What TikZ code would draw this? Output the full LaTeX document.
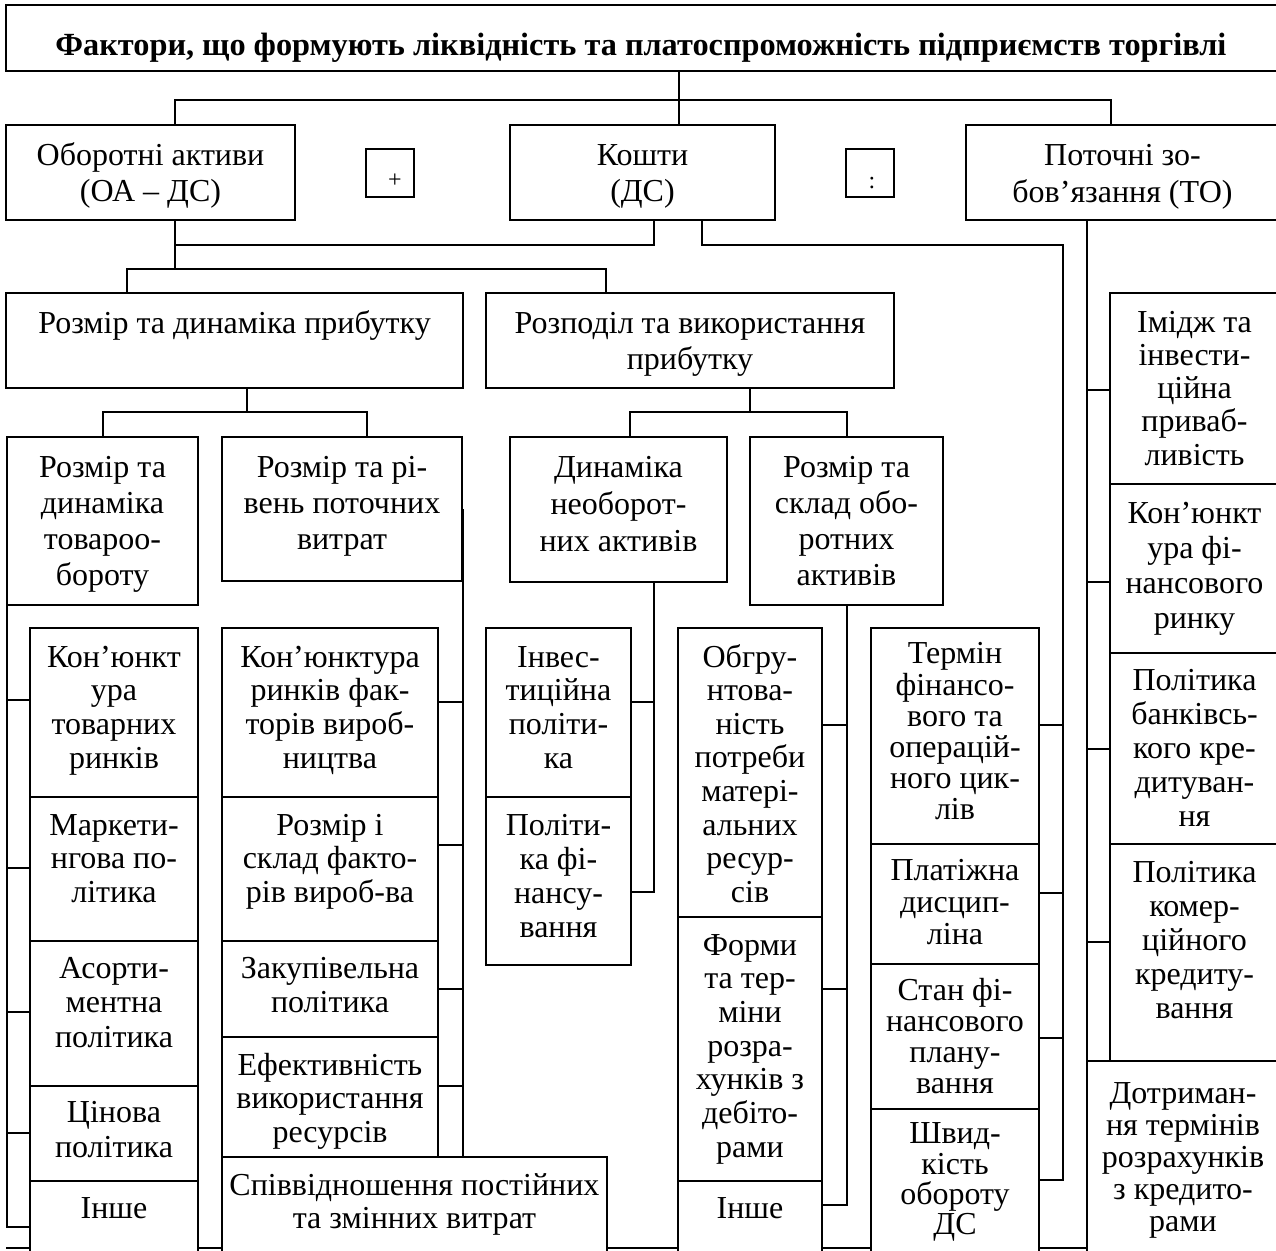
\documentclass[tikz,border=0pt]{standalone}
\usepackage{fontspec}
\setmainfont{Liberation Serif}
\usetikzlibrary{calc}
\tikzset{
  box/.style={draw, rectangle, line width=1.2pt, fill=white, inner sep=0pt, outer sep=0pt},
  txt/.style={inner sep=0pt, outer sep=0pt, align=center, text=black},
  ln/.style={line width=1.2pt, line cap=rect}
}
\newcommand\bx[8]{%
  \node[box, anchor=north west, minimum width={#4-#2}, minimum height={#5-#3}] (#1) at (#2,#3) {};
  \node[txt, font=\fontsize{32}{#7}\selectfont, anchor=north] (#1t) at ({(#2+#4)/2},{#6-0.7*#7}) {\strut #8};
}
\newcommand\tick[3]{%
  \coordinate (tk) at (#1,#2);
  \draw[ln] (tk) -- (tk -| #3);
}
\begin{document}
\begin{tikzpicture}[x=1pt,y=-1pt]
\useasboundingbox[fill=white] (0,0) rectangle (1276,1250);
% bottom fragment line (behind boxes)
\coordinate (bl1) at (7,1248);
\coordinate (bl2) at (1087,1248);
\draw[ln] (bl1) -- (bl2);
% title
\node[box, line width=2pt, anchor=north west, minimum width=1274, minimum height=66] (title) at (6,5) {};
\node[txt, font=\fontsize{32.3}{38}\selectfont\bfseries, anchor=base] (titlet) at (641,55) {Фактори, що формують ліквідність та платоспроможність підприємств торгівлі};
% row 2
\bx{oa}{6}{125}{295}{220}{165}{36}{Оборотні активи\\(ОА – ДС)}
\bx{kosh}{510}{125}{775}{220}{165}{36}{Кошти\\(ДС)}
\bx{to}{966}{125}{1279}{220}{165}{37}{Поточні зо-\\бов’язання (ТО)}
\node[box, anchor=north west, minimum width=48, minimum height=48] (plus) at (366,149) {};
\node[txt, font=\fontsize{24}{28}\selectfont, anchor=base] (plust) at (395,187) {+};
\node[box, anchor=north west, minimum width=48, minimum height=48] (colon) at (846,149) {};
\node[txt, font=\fontsize{24}{28}\selectfont, anchor=base] (colont) at (872,188) {:};
% row 3
\bx{rdp}{6}{293}{463}{388}{333}{36}{Розмір та динаміка прибутку}
\bx{rvp}{486}{293}{894}{388}{333}{36}{Розподіл та використання\\прибутку}
% row 4
\bx{rdt}{7}{437}{198}{605}{477}{36}{Розмір та\\динаміка\\товароо-\\бороту}
\bx{rrv}{222}{437}{462}{581}{477}{36}{Розмір та рі-\\вень поточних\\витрат}
\bx{dna}{510}{437}{727}{582}{477}{37}{Динаміка\\необорот-\\них активів}
\bx{rso}{750}{437}{943}{605}{477}{36}{Розмір та\\склад обо-\\ротних\\активів}
% right column
\bx{imid}{1110}{293}{1279}{484}{332}{33.3}{Імідж та\\інвести-\\ційна\\приваб-\\ливість}
\bx{kon2}{1110}{484}{1279}{653}{523}{35}{Кон’юнкт\\ура фі-\\нансового\\ринку}
\bx{polb}{1110}{653}{1279}{844}{690}{34}{Політика\\банківсь-\\кого кре-\\дитуван-\\ня}
\bx{polk}{1110}{844}{1279}{1061}{882}{34}{Політика\\комер-\\ційного\\кредиту-\\вання}
\bx{dotr}{1087}{1061}{1279}{1262}{1103}{32}{Дотриман-\\ня термінів\\розрахунків\\з кредито-\\рами}
% termin column
\bx{termin}{871}{628}{1039}{844}{663}{31}{Термін\\фінансо-\\вого та\\операцій-\\ного цик-\\лів}
\bx{plat}{871}{844}{1039}{964}{880}{32}{Платіжна\\дисцип-\\ліна}
\bx{stan}{871}{964}{1039}{1109}{1000}{31}{Стан фі-\\нансового\\плану-\\вання}
\bx{shv}{871}{1109}{1039}{1262}{1143}{30}{Швид-\\кість\\обороту\\ДС}
% obg column
\bx{obg}{678}{628}{822}{917}{667}{33.6}{Обгру-\\нтова-\\ність\\потреби\\матері-\\альних\\ресур-\\сів}
\bx{form}{678}{917}{822}{1181}{955}{33.7}{Форми\\та тер-\\міни\\розра-\\хунків з\\дебіто-\\рами}
\bx{inshe2}{678}{1181}{822}{1262}{1218}{33}{Інше}
% inv column
\bx{inv}{486}{628}{631}{797}{667}{33.7}{Інвес-\\тиційна\\політи-\\ка}
\bx{polf}{486}{797}{631}{965}{835}{34}{Політи-\\ка фі-\\нансу-\\вання}
% left column
\bx{konl}{30}{628}{198}{797}{667}{33.7}{Кон’юнкт\\ура\\товарних\\ринків}
\bx{mark}{30}{797}{198}{941}{835}{33.5}{Маркети-\\нгова по-\\літика}
\bx{asort}{30}{941}{198}{1086}{978}{34.5}{Асорти-\\ментна\\політика}
\bx{cin}{30}{1086}{198}{1181}{1122}{35}{Цінова\\політика}
\bx{inshe1}{30}{1181}{198}{1262}{1218}{33}{Інше}
% second column
\bx{konf}{222}{628}{438}{797}{667}{33.7}{Кон’юнктура\\ринків фак-\\торів вироб-\\ництва}
\bx{rozi}{222}{797}{438}{941}{835}{33.5}{Розмір і\\склад факто-\\рів вироб-ва}
\bx{zak}{222}{941}{438}{1037}{978}{34}{Закупівельна\\політика}
\bx{ef}{222}{1037}{438}{1157}{1075}{33.5}{Ефективність\\використання\\ресурсів}
\bx{spiv}{222}{1157}{607}{1262}{1195}{33}{Співвідношення постійних\\та змінних витрат}
% ---- connectors ----
\coordinate (jt) at (679,100);
\coordinate (ja) at (175,100);
\coordinate (jc) at (1111,100);
\draw[ln] (title.south -| jt) -- (kosh.north -| jt);
\draw[ln] (ja) -- (jc);
\draw[ln] (ja) -- (ja |- oa.north);
\draw[ln] (jc) -- (jc |- to.north);
% OA + Koshty bracket
\coordinate (jb1) at (175,245);
\coordinate (jb2) at (654,245);
\coordinate (jb3) at (175,269);
\draw[ln] (oa.south -| jb1) -- (jb3);
\draw[ln] (jb1) -- (jb2) -- (jb2 |- kosh.south);
\coordinate (jp1) at (127,269);
\coordinate (jp2) at (606,269);
\draw[ln] (jp1 |- rdp.north) -- (jp1) -- (jp2) -- (jp2 |- rvp.north);
% Koshty right bus
\coordinate (kk) at (702,245);
\coordinate (kr) at (1063,245);
\coordinate (kr4) at (1063,1180);
\draw[ln] (kosh.south -| kk) -- (kk) -- (kr) -- (kr4) -- (kr4 -| shv.east);
\tick{1063}{725}{termin.east}
\tick{1063}{893}{plat.east}
\tick{1063}{1038}{stan.east}
% TO bus
\coordinate (tb) at (1087,220);
\draw[ln] (to.south -| tb) -- (dotr.north west);
\tick{1087}{390}{imid.west}
\tick{1087}{582}{kon2.west}
\tick{1087}{749}{polb.west}
\tick{1087}{942}{polk.west}
% rdp bracket
\coordinate (e0) at (247,412);
\coordinate (e1) at (103,412);
\coordinate (e2) at (367,412);
\draw[ln] (rdp.south -| e0) -- (e0);
\draw[ln] (e1 |- rdt.north) -- (e1) -- (e2) -- (e2 |- rrv.north);
% rvp bracket
\coordinate (f0) at (750,412);
\coordinate (f1) at (630,412);
\coordinate (f2) at (847,412);
\draw[ln] (rvp.south -| f0) -- (f0);
\draw[ln] (f1 |- dna.north) -- (f1) -- (f2) -- (f2 |- rso.north);
% left column bus
\coordinate (lb) at (7,1227);
\draw[ln] (rdt.south west) -- (lb);
\tick{7}{700}{konl.west}
\tick{7}{868}{mark.west}
\tick{7}{1012}{asort.west}
\tick{7}{1133}{cin.west}
\tick{7}{1227}{inshe1.west}
% second column bus
\coordinate (sb) at (463,510);
\draw[ln] (sb) -- (sb |- spiv.north);
\tick{463}{702}{konf.east}
\tick{463}{845}{rozi.east}
\tick{463}{989}{zak.east}
\tick{463}{1086}{ef.east}
% dna bus
\coordinate (db) at (654,892);
\draw[ln] (db |- dna.south) -- (db);
\tick{654}{702}{inv.east}
\tick{654}{892}{polf.east}
% rso bus
\coordinate (rb) at (847,1205);
\draw[ln] (rb |- rso.south) -- (rb);
\tick{847}{725}{obg.east}
\tick{847}{989}{form.east}
\tick{847}{1205}{inshe2.east}
\end{tikzpicture}
\end{document}
